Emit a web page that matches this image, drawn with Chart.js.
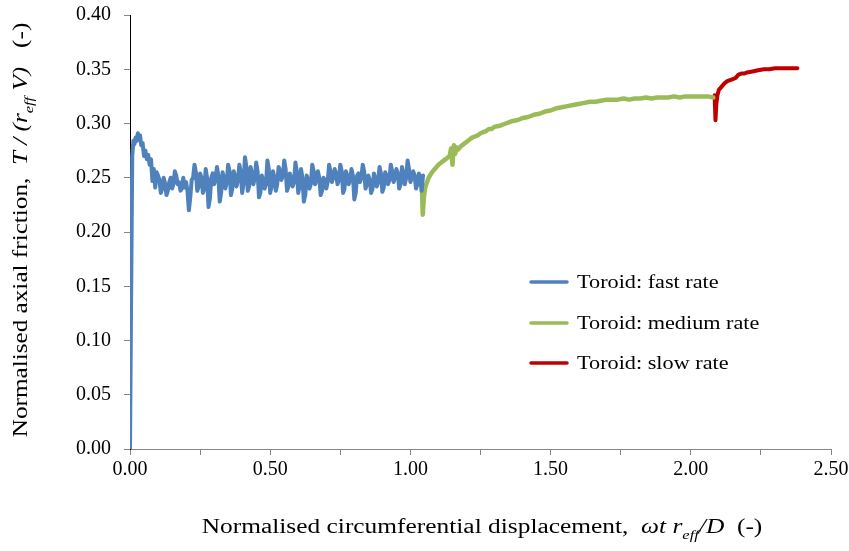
<!DOCTYPE html>
<html>
<head>
<meta charset="utf-8">
<script src="https://cdn.jsdelivr.net/npm/chart.js@4/dist/chart.umd.min.js"></script>
<style>
html,body{margin:0;padding:0;background:#fff;}
#wrap{width:849px;height:551px;position:relative;}
</style>
</head>
<body>
<div id="wrap"><canvas id="c" width="849" height="551"></canvas></div>
<script>
// ---- data ----
const seriesNames = ['Toroid: fast rate', 'Toroid: medium rate', 'Toroid: slow rate'];
const seriesColors = ['#4F81BD', '#9BBB59', '#C00000'];

const fastX = [0,0.004,0.008,0.012,0.016,0.020,0.024,0.028,0.032,0.036,0.040,0.045,0.050,0.055,0.060,0.065,0.070,0.075,0.080,0.085,0.090,0.095,
0.100,0.105,0.110,0.115,0.120,0.125,0.130,0.135,0.140,0.145,0.150,0.155,0.160,0.165,0.170,0.175,0.180,0.185,0.190,0.195,
0.200,0.205,0.210,0.215,0.220,0.225,0.230,0.235,0.240,0.245,0.250,0.255,0.260,0.265,0.270,0.275,0.280,0.285,0.290,0.295,
0.300,0.305,0.310,0.315,0.320,0.325,0.330,0.335,0.340,0.345,0.350,0.355,0.360,0.365,0.370,0.375,0.380,0.385,0.390,0.395,
0.400,0.405,0.410,0.415,0.420,0.425,0.430,0.435,0.440,0.445,0.450,0.455,0.460,0.465,0.470,0.475,0.480,0.485,0.490,0.495,
0.500,0.505,0.510,0.515,0.520,0.525,0.530,0.535,0.540,0.545,0.550,0.555,0.560,0.565,0.570,0.575,0.580,0.585,0.590,0.595,
0.600,0.605,0.610,0.615,0.620,0.625,0.630,0.635,0.640,0.645,0.650,0.655,0.660,0.665,0.670,0.675,0.680,0.685,0.690,0.695,
0.700,0.705,0.710,0.715,0.720,0.725,0.730,0.735,0.740,0.745,0.750,0.755,0.760,0.765,0.770,0.775,0.780,0.785,0.790,0.795,
0.800,0.805,0.810,0.815,0.820,0.825,0.830,0.835,0.840,0.845,0.850,0.855,0.860,0.865,0.870,0.875,0.880,0.885,0.890,0.895,
0.900,0.905,0.910,0.915,0.920,0.925,0.930,0.935,0.940,0.945,0.950,0.955,0.960,0.965,0.970,0.975,0.980,0.985,0.990,0.995,
1.000,1.005,1.010,1.015,1.020,1.025,1.030,1.035,1.040,1.045];
const fastY = [0,0.140,0.270,0.284,0.281,0.287,0.284,0.291,0.285,0.289,0.280,0.282,0.270,0.275,0.267,0.271,0.262,0.267,0.247,0.258,0.241,0.255,
0.252,0.248,0.236,0.240,0.250,0.245,0.234,0.238,0.246,0.250,0.240,0.244,0.256,0.252,0.244,0.246,0.238,0.240,0.250,0.241,
0.246,0.238,0.220,0.232,0.248,0.250,0.262,0.255,0.238,0.242,0.254,0.250,0.236,0.240,0.258,0.250,0.223,0.231,0.250,0.254,
0.244,0.248,0.260,0.252,0.228,0.236,0.255,0.250,0.240,0.246,0.262,0.256,0.234,0.240,0.256,0.250,0.242,0.248,0.262,0.255,
0.236,0.245,0.269,0.260,0.238,0.242,0.260,0.254,0.244,0.250,0.264,0.256,0.232,0.236,0.252,0.248,0.240,0.244,0.266,0.258,
0.236,0.242,0.256,0.250,0.238,0.244,0.260,0.256,0.248,0.252,0.266,0.258,0.238,0.242,0.254,0.250,0.242,0.246,0.264,0.256,
0.236,0.242,0.258,0.250,0.228,0.234,0.252,0.248,0.240,0.244,0.262,0.256,0.244,0.248,0.256,0.250,0.234,0.238,0.250,0.248,
0.240,0.246,0.262,0.256,0.246,0.250,0.258,0.254,0.244,0.248,0.262,0.256,0.236,0.240,0.256,0.252,0.244,0.248,0.258,0.252,
0.230,0.236,0.252,0.254,0.246,0.250,0.262,0.256,0.240,0.244,0.252,0.248,0.236,0.240,0.254,0.250,0.242,0.246,0.260,0.254,
0.237,0.241,0.255,0.252,0.244,0.248,0.262,0.256,0.246,0.250,0.258,0.254,0.240,0.244,0.260,0.254,0.244,0.250,0.266,0.258,
0.246,0.250,0.256,0.252,0.240,0.244,0.254,0.250,0.238,0.252];

const mediumX = [1.040,1.044,1.048,1.052,1.058,1.065,1.072,1.080,1.090,1.100,1.110,1.120,1.130,1.140,1.145,1.150,1.155,1.160,1.165,1.170,1.180,1.190,1.200,
1.210,1.220,1.230,1.240,1.250,1.260,1.270,1.280,1.290,1.300,1.320,1.340,1.360,1.380,1.400,1.420,1.440,1.460,1.480,1.500,
1.520,1.540,1.560,1.580,1.600,1.620,1.640,1.660,1.680,1.700,1.720,1.740,1.760,1.780,1.800,1.820,1.840,1.860,1.880,1.900,
1.920,1.940,1.960,1.980,2.000,2.020,2.040,2.060,2.080];
const mediumY = [0.250,0.216,0.232,0.240,0.245,0.250,0.253,0.256,0.259,0.262,0.264,0.266,0.268,0.270,0.277,0.262,0.280,0.272,0.278,0.276,0.279,0.281,0.283,
0.285,0.287,0.288,0.289,0.291,0.292,0.293,0.295,0.295,0.297,0.298,0.300,0.302,0.303,0.305,0.306,0.308,0.309,0.311,0.312,
0.314,0.315,0.316,0.317,0.318,0.319,0.320,0.320,0.321,0.322,0.322,0.322,0.323,0.322,0.323,0.323,0.324,0.323,0.324,0.324,
0.324,0.325,0.324,0.325,0.325,0.325,0.325,0.325,0.324];

const slowX = [2.085,2.088,2.091,2.095,2.100,2.110,2.120,2.130,2.140,2.150,2.160,2.170,2.180,2.190,2.200,2.220,2.240,2.260,2.280,2.300,2.320,2.340,2.360,2.380];
const slowY = [0.326,0.303,0.318,0.326,0.331,0.334,0.337,0.339,0.340,0.341,0.342,0.345,0.346,0.346,0.347,0.348,0.349,0.350,0.350,0.351,0.351,0.351,0.351,0.351];

const xTickLabels = ['0.00','0.50','1.00','1.50','2.00','2.50'];

// ---- build datasets ----
function pts(xs, ys){ return xs.map((x,i)=>({x:x, y:ys[i]})); }
const datasets = [
  {label: seriesNames[0], data: pts(fastX, fastY), borderColor: seriesColors[0], borderWidth: 4},
  {label: seriesNames[1], data: pts(mediumX, mediumY), borderColor: seriesColors[1], borderWidth: 4.5},
  {label: seriesNames[2], data: pts(slowX, slowY), borderColor: seriesColors[2], borderWidth: 4}
].map(d => Object.assign(d, {showLine:true, pointRadius:0, fill:false, tension:0, borderJoinStyle:'round', borderCapStyle:'round'}));

const SERIF = '"Liberation Serif", "Times New Roman", serif';

function drawRich(ctx, segs, size, sx){
  ctx.scale(sx, 1);
  let total = 0;
  segs.forEach(s => {
    const fs = s.sub ? size*0.65 : size;
    ctx.font = (s.it ? 'italic ' : '') + fs + 'px ' + SERIF;
    s.w = ctx.measureText(s.t).width; total += s.w;
  });
  let x = -total/2;
  segs.forEach(s => {
    const fs = s.sub ? size*0.65 : size;
    ctx.font = (s.it ? 'italic ' : '') + fs + 'px ' + SERIF;
    ctx.fillText(s.t, x, s.sub ? size*0.3 : 0);
    x += s.w;
  });
}

const titlesPlugin = {
  id: 'titles',
  afterDraw(chart){
    const ctx = chart.ctx;
    ctx.save();
    ctx.fillStyle = '#000';
    ctx.textBaseline = 'alphabetic';
    ctx.textAlign = 'left';
    // y-axis title
    ctx.save();
    ctx.translate(27, 230);
    ctx.rotate(-Math.PI/2);
    drawRich(ctx, [
      {t:'Normalised axial friction,  '},
      {t:'T / (r', it:true},
      {t:'eff', it:true, sub:true},
      {t:' V)', it:true},
      {t:'   (-)'}
    ], 20, 1.26);
    ctx.restore();
    // x-axis title
    ctx.save();
    ctx.translate(482, 533);
    drawRich(ctx, [
      {t:'Normalised circumferential displacement,  '},
      {t:'ωt r', it:true},
      {t:'eff', it:true, sub:true},
      {t:'/D', it:true},
      {t:'  (-)'}
    ], 20, 1.27);
    ctx.restore();
    // legend
    const rows = [282, 323, 363];
    chart.data.datasets.forEach((d, i) => {
      ctx.strokeStyle = d.borderColor;
      ctx.lineWidth = 3.5;
      ctx.lineCap = 'round';
      ctx.beginPath();
      ctx.moveTo(531, rows[i]); ctx.lineTo(567, rows[i]);
      ctx.stroke();
      ctx.save();
      ctx.translate(577, rows[i] + 1);
      ctx.scale(1.17, 1);
      ctx.font = '19px ' + SERIF;
      ctx.textBaseline = 'middle';
      ctx.fillStyle = '#000';
      ctx.fillText(d.label, 0, 0);
      ctx.restore();
    });
    ctx.restore();
  }
};

new Chart(document.getElementById('c'), {
  type: 'scatter',
  data: { datasets },
  plugins: [titlesPlugin],
  options: {
    responsive: false,
    animation: false,
    layout: { padding: { top: 15, right: 18, left: 0, bottom: 0 } },
    plugins: { legend: { display: false }, tooltip: { enabled: false } },
    scales: {
      x: {
        type: 'linear', min: 0, max: 2.5,
        afterFit(s){ s.height = 102; s.paddingLeft = 0; s.paddingRight = 0; },
        afterBuildTicks(s){ s.ticks = [0,0.25,0.5,0.75,1,1.25,1.5,1.75,2,2.25,2.5].map(v=>({value:v})); },
        ticks: {
          autoSkip: false, maxRotation: 0, padding: 3, color: '#000',
          font: { family: SERIF, size: 20 },
          callback(v){ const k = Math.round(v/0.5); return Math.abs(v - k*0.5) < 1e-6 ? xTickLabels[k] : ''; }
        },
        grid: { drawOnChartArea: false, drawTicks: true, tickLength: 6, color: '#868686' },
        border: { color: '#868686', width: 1 }
      },
      y: {
        min: 0, max: 0.4,
        afterFit(s){ s.width = 130; s.paddingTop = 0; s.paddingBottom = 0; },
        ticks: {
          stepSize: 0.05, padding: 13, color: '#000',
          font: { family: SERIF, size: 20 },
          callback(v){ return v.toFixed(2); }
        },
        grid: { drawOnChartArea: false, drawTicks: true, tickLength: 6, color: '#868686' },
        border: { color: '#000', width: 1 }
      }
    }
  }
});
</script>
</body>
</html>
